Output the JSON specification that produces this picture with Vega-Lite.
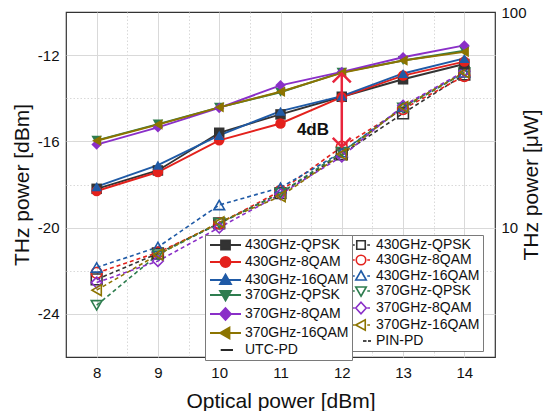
{
  "$schema": "https://vega.github.io/schema/vega-lite/v6.json",
  "width": 429,
  "height": 345,
  "autosize": {"type": "none"},
  "padding": {"left": 66, "top": 12, "right": 49, "bottom": 54},
  "config": {
    "view": {"stroke": "#333333", "strokeWidth": 1.2},
    "font": "Liberation Sans",
    "legend": {"strokeColor": "#7a7a7a", "strokeWidth": 1}
  },
  "datasets": {
    "thz": [
      {"pd": "PIN", "series": "430GHz-QPSK", "op": 8, "thz": -22.4},
      {"pd": "PIN", "series": "430GHz-QPSK", "op": 9, "thz": -21.2},
      {"pd": "PIN", "series": "430GHz-QPSK", "op": 10, "thz": -19.8},
      {"pd": "PIN", "series": "430GHz-QPSK", "op": 11, "thz": -18.4},
      {"pd": "PIN", "series": "430GHz-QPSK", "op": 12, "thz": -16.6},
      {"pd": "PIN", "series": "430GHz-QPSK", "op": 13, "thz": -14.7},
      {"pd": "PIN", "series": "430GHz-QPSK", "op": 14, "thz": -12.9},
      {"pd": "PIN", "series": "430GHz-8QAM", "op": 8, "thz": -22.1},
      {"pd": "PIN", "series": "430GHz-8QAM", "op": 9, "thz": -21.15},
      {"pd": "PIN", "series": "430GHz-8QAM", "op": 10, "thz": -19.8},
      {"pd": "PIN", "series": "430GHz-8QAM", "op": 11, "thz": -18.3},
      {"pd": "PIN", "series": "430GHz-8QAM", "op": 12, "thz": -16.25},
      {"pd": "PIN", "series": "430GHz-8QAM", "op": 13, "thz": -14.5},
      {"pd": "PIN", "series": "430GHz-8QAM", "op": 14, "thz": -12.97},
      {"pd": "PIN", "series": "430GHz-16QAM", "op": 8, "thz": -21.85},
      {"pd": "PIN", "series": "430GHz-16QAM", "op": 9, "thz": -20.9},
      {"pd": "PIN", "series": "430GHz-16QAM", "op": 10, "thz": -18.95},
      {"pd": "PIN", "series": "430GHz-16QAM", "op": 11, "thz": -18.15},
      {"pd": "PIN", "series": "430GHz-16QAM", "op": 12, "thz": -16.5},
      {"pd": "PIN", "series": "430GHz-16QAM", "op": 13, "thz": -14.4},
      {"pd": "PIN", "series": "430GHz-16QAM", "op": 14, "thz": -12.8},
      {"pd": "PIN", "series": "370GHz-QPSK", "op": 8, "thz": -23.6},
      {"pd": "PIN", "series": "370GHz-QPSK", "op": 9, "thz": -21.25},
      {"pd": "PIN", "series": "370GHz-QPSK", "op": 10, "thz": -19.8},
      {"pd": "PIN", "series": "370GHz-QPSK", "op": 11, "thz": -18.4},
      {"pd": "PIN", "series": "370GHz-QPSK", "op": 12, "thz": -16.5},
      {"pd": "PIN", "series": "370GHz-QPSK", "op": 13, "thz": -14.45},
      {"pd": "PIN", "series": "370GHz-QPSK", "op": 14, "thz": -12.82},
      {"pd": "PIN", "series": "370GHz-8QAM", "op": 8, "thz": -22.55},
      {"pd": "PIN", "series": "370GHz-8QAM", "op": 9, "thz": -21.55},
      {"pd": "PIN", "series": "370GHz-8QAM", "op": 10, "thz": -20.0},
      {"pd": "PIN", "series": "370GHz-8QAM", "op": 11, "thz": -18.45},
      {"pd": "PIN", "series": "370GHz-8QAM", "op": 12, "thz": -16.7},
      {"pd": "PIN", "series": "370GHz-8QAM", "op": 13, "thz": -14.35},
      {"pd": "PIN", "series": "370GHz-8QAM", "op": 14, "thz": -12.75},
      {"pd": "PIN", "series": "370GHz-16QAM", "op": 8, "thz": -22.9},
      {"pd": "PIN", "series": "370GHz-16QAM", "op": 9, "thz": -21.25},
      {"pd": "PIN", "series": "370GHz-16QAM", "op": 10, "thz": -19.75},
      {"pd": "PIN", "series": "370GHz-16QAM", "op": 11, "thz": -18.55},
      {"pd": "PIN", "series": "370GHz-16QAM", "op": 12, "thz": -16.6},
      {"pd": "PIN", "series": "370GHz-16QAM", "op": 13, "thz": -14.4},
      {"pd": "PIN", "series": "370GHz-16QAM", "op": 14, "thz": -12.8},
      {"pd": "UTC", "series": "430GHz-QPSK", "op": 8, "thz": -18.2},
      {"pd": "UTC", "series": "430GHz-QPSK", "op": 9, "thz": -17.35},
      {"pd": "UTC", "series": "430GHz-QPSK", "op": 10, "thz": -15.6},
      {"pd": "UTC", "series": "430GHz-QPSK", "op": 11, "thz": -14.75},
      {"pd": "UTC", "series": "430GHz-QPSK", "op": 12, "thz": -13.93},
      {"pd": "UTC", "series": "430GHz-QPSK", "op": 13, "thz": -13.12},
      {"pd": "UTC", "series": "430GHz-QPSK", "op": 14, "thz": -12.41},
      {"pd": "UTC", "series": "430GHz-8QAM", "op": 8, "thz": -18.3},
      {"pd": "UTC", "series": "430GHz-8QAM", "op": 9, "thz": -17.42},
      {"pd": "UTC", "series": "430GHz-8QAM", "op": 10, "thz": -15.95},
      {"pd": "UTC", "series": "430GHz-8QAM", "op": 11, "thz": -15.17},
      {"pd": "UTC", "series": "430GHz-8QAM", "op": 12, "thz": -13.95},
      {"pd": "UTC", "series": "430GHz-8QAM", "op": 13, "thz": -12.95},
      {"pd": "UTC", "series": "430GHz-8QAM", "op": 14, "thz": -12.3},
      {"pd": "UTC", "series": "430GHz-16QAM", "op": 8, "thz": -18.1},
      {"pd": "UTC", "series": "430GHz-16QAM", "op": 9, "thz": -17.1},
      {"pd": "UTC", "series": "430GHz-16QAM", "op": 10, "thz": -15.72},
      {"pd": "UTC", "series": "430GHz-16QAM", "op": 11, "thz": -14.6},
      {"pd": "UTC", "series": "430GHz-16QAM", "op": 12, "thz": -13.9},
      {"pd": "UTC", "series": "430GHz-16QAM", "op": 13, "thz": -12.85},
      {"pd": "UTC", "series": "430GHz-16QAM", "op": 14, "thz": -12.15},
      {"pd": "UTC", "series": "370GHz-QPSK", "op": 8, "thz": -15.95},
      {"pd": "UTC", "series": "370GHz-QPSK", "op": 9, "thz": -15.2},
      {"pd": "UTC", "series": "370GHz-QPSK", "op": 10, "thz": -14.42},
      {"pd": "UTC", "series": "370GHz-QPSK", "op": 11, "thz": -13.72},
      {"pd": "UTC", "series": "370GHz-QPSK", "op": 12, "thz": -12.8},
      {"pd": "UTC", "series": "370GHz-QPSK", "op": 13, "thz": -12.25},
      {"pd": "UTC", "series": "370GHz-QPSK", "op": 14, "thz": -11.8},
      {"pd": "UTC", "series": "370GHz-8QAM", "op": 8, "thz": -16.15},
      {"pd": "UTC", "series": "370GHz-8QAM", "op": 9, "thz": -15.35},
      {"pd": "UTC", "series": "370GHz-8QAM", "op": 10, "thz": -14.45},
      {"pd": "UTC", "series": "370GHz-8QAM", "op": 11, "thz": -13.4},
      {"pd": "UTC", "series": "370GHz-8QAM", "op": 12, "thz": -12.78},
      {"pd": "UTC", "series": "370GHz-8QAM", "op": 13, "thz": -12.1},
      {"pd": "UTC", "series": "370GHz-8QAM", "op": 14, "thz": -11.55},
      {"pd": "UTC", "series": "370GHz-16QAM", "op": 8, "thz": -15.97},
      {"pd": "UTC", "series": "370GHz-16QAM", "op": 9, "thz": -15.22},
      {"pd": "UTC", "series": "370GHz-16QAM", "op": 10, "thz": -14.42},
      {"pd": "UTC", "series": "370GHz-16QAM", "op": 11, "thz": -13.7},
      {"pd": "UTC", "series": "370GHz-16QAM", "op": 12, "thz": -12.82},
      {"pd": "UTC", "series": "370GHz-16QAM", "op": 13, "thz": -12.25},
      {"pd": "UTC", "series": "370GHz-16QAM", "op": 14, "thz": -11.85}
    ]
  },
  "layer": [
    {
      "encoding": {
        "x": {
          "field": "op", "type": "quantitative",
          "scale": {"domain": [7.5, 14.5], "nice": false, "zero": false},
          "axis": {
            "title": "Optical power [dBm]",
            "values": [8, 8.5, 9, 9.5, 10, 10.5, 11, 11.5, 12, 12.5, 13, 13.5, 14],
            "labelExpr": "datum.value % 1 == 0 ? toString(datum.value) : ''",
            "domain": false, "tickSize": 0, "tickColor": "#333333", "tickWidth": 1.2,
            "encode": {"ticks": {"update": {"y2": {"signal": "datum.value % 1 == 0 ? -6 : -3"}}}},
            "grid": true, "gridColor": "#d9d9d9", "gridWidth": 1,
            "gridDash": {"condition": {"test": "datum.value % 1 == 0", "value": []}, "value": [1.5, 2]},
            "labelFont": "Liberation Sans", "labelFontSize": 15, "labelColor": "#111111",
            "labelPadding": 8, "labelFlush": false,
            "titleFont": "Liberation Sans", "titleFontSize": 21, "titleFontWeight": "normal",
            "titleColor": "#111111", "titleY": 33
          }
        },
        "y": {
          "field": "thz", "type": "quantitative",
          "scale": {"domain": [-26, -10], "nice": false, "zero": false},
          "axis": {
            "title": "THz power [dBm]",
            "values": [-24, -22, -20, -18, -16, -14, -12],
            "labelExpr": "datum.value % 4 == 0 ? toString(datum.value) : ''",
            "domain": false, "tickSize": 0, "tickColor": "#333333", "tickWidth": 1.2,
            "encode": {"ticks": {"update": {"x2": {"signal": "datum.value % 4 == 0 ? 6 : 3"}}}},
            "grid": true, "gridColor": "#d9d9d9", "gridWidth": 1,
            "gridDash": {"condition": {"test": "datum.value % 4 == 0", "value": []}, "value": [1.5, 2]},
            "labelFont": "Liberation Sans", "labelFontSize": 15, "labelColor": "#111111",
            "labelPadding": 7, "labelFlush": false,
            "titleFont": "Liberation Sans", "titleFontSize": 21, "titleFontWeight": "normal",
            "titleColor": "#111111", "titleX": -34, "titleY": 172.5
          }
        }
      },
      "layer": [
        {
          "data": {"name": "thz"},
          "transform": [{"filter": "datum.pd == 'PIN'"}],
          "layer": [
            {
              "mark": {"type": "line", "strokeWidth": 1.6, "strokeDash": [4, 3]},
              "encoding": {
                "color": {"field": "series", "type": "nominal",
                  "scale": {"domain": ["430GHz-QPSK", "430GHz-8QAM", "430GHz-16QAM", "370GHz-QPSK", "370GHz-8QAM", "370GHz-16QAM"],
                            "range": ["#333333", "#e3211c", "#1f5aa6", "#2e7d4f", "#8a2fc8", "#8c7400"]},
                  "legend": null}
              }
            },
            {
              "mark": {"type": "point", "filled": false, "size": 115, "strokeWidth": 1.6, "opacity": 1},
              "encoding": {
                "color": {"field": "series", "type": "nominal",
                  "scale": {"domain": ["430GHz-QPSK", "430GHz-8QAM", "430GHz-16QAM", "370GHz-QPSK", "370GHz-8QAM", "370GHz-16QAM"],
                            "range": ["#333333", "#e3211c", "#1f5aa6", "#2e7d4f", "#8a2fc8", "#8c7400"]},
                  "legend": null},
                "shape": {"field": "series", "type": "nominal",
                  "scale": {"domain": ["430GHz-QPSK", "430GHz-8QAM", "430GHz-16QAM", "370GHz-QPSK", "370GHz-8QAM", "370GHz-16QAM"],
                            "range": ["square", "circle", "triangle-up", "triangle-down", "diamond", "triangle-left"]},
                  "legend": null}
              }
            },
            {
              "data": {"values": []},
              "mark": {"type": "point", "filled": false, "size": 100, "strokeWidth": 1.6, "opacity": 1},
              "encoding": {
                "stroke": {"field": "series", "type": "nominal",
                  "scale": {"domain": ["430GHz-QPSK", "430GHz-8QAM", "430GHz-16QAM\u00a0\u00a0\u00a0", "370GHz-QPSK", "370GHz-8QAM", "370GHz-16QAM", "\u00a0\u00a0\u00a0PIN-PD"],
                            "range": ["#333333", "#e3211c", "#1f5aa6", "#2e7d4f", "#8a2fc8", "#8c7400", "#111111"]},
                  "legend": {
                    "title": null, "orient": "none", "legendX": 285, "legendY": 223,
                    "padding": 3, "strokeColor": "#7a7a7a", "fillColor": "#ffffff",
                    "labelFont": "Liberation Sans", "labelFontSize": 14, "labelColor": "#111111",
                    "labelOffset": 8, "rowPadding": -1, "symbolStrokeWidth": 1.6, "symbolOpacity": 1,
                    "labelLimit": 250
                  }},
                "shape": {"field": "series", "type": "nominal",
                  "scale": {"domain": ["430GHz-QPSK", "430GHz-8QAM", "430GHz-16QAM\u00a0\u00a0\u00a0", "370GHz-QPSK", "370GHz-8QAM", "370GHz-16QAM", "\u00a0\u00a0\u00a0PIN-PD"],
                            "range": ["M-1.8,0H-1.25M1.25,0H1.8M-0.85,-0.85H0.85V0.85H-0.85Z", "M-1.8,0H-1.25M1.25,0H1.8M-0.95,0A0.95,0.95 0 1,0 0.95,0A0.95,0.95 0 1,0 -0.95,0Z", "M-1.8,0H-1.25M1.25,0H1.8M0,-1.05L1.05,0.8H-1.05Z", "M-1.8,0H-1.25M1.25,0H1.8M0,1.05L1.05,-0.8H-1.05Z", "M-1.8,0H-1.25M1.25,0H1.8M0,-1.15L1.05,0L0,1.15L-1.05,0Z", "M-1.8,0H-1.25M1.25,0H1.8M-1.05,0L0.85,-1.05V1.05Z", "M0.4,0H1.1M1.4,0H2.0"]},
                  "legend": {
                    "title": null, "orient": "none", "legendX": 285, "legendY": 223,
                    "padding": 3, "strokeColor": "#7a7a7a", "fillColor": "#ffffff",
                    "labelFont": "Liberation Sans", "labelFontSize": 14, "labelColor": "#111111",
                    "labelOffset": 8, "rowPadding": -1, "symbolStrokeWidth": 1.6, "symbolOpacity": 1,
                    "labelLimit": 250
                  }}
              }
            }
          ],
          "resolve": {"scale": {"shape": "independent", "stroke": "independent", "fill": "independent"}}
        },
        {
          "data": {"name": "thz"},
          "transform": [{"filter": "datum.pd == 'UTC'"}],
          "layer": [
            {
              "mark": {"type": "line", "strokeWidth": 1.9},
              "encoding": {
                "color": {"field": "series", "type": "nominal",
                  "scale": {"domain": ["430GHz-QPSK", "430GHz-8QAM", "430GHz-16QAM", "370GHz-QPSK", "370GHz-8QAM", "370GHz-16QAM"],
                            "range": ["#333333", "#e3211c", "#1f5aa6", "#2e7d4f", "#8a2fc8", "#8c7400"]},
                  "legend": null}
              }
            },
            {
              "mark": {"type": "point", "filled": true, "size": 110, "opacity": 1},
              "encoding": {
                "color": {"field": "series", "type": "nominal",
                  "scale": {"domain": ["430GHz-QPSK", "430GHz-8QAM", "430GHz-16QAM", "370GHz-QPSK", "370GHz-8QAM", "370GHz-16QAM"],
                            "range": ["#333333", "#e3211c", "#1f5aa6", "#2e7d4f", "#8a2fc8", "#8c7400"]},
                  "legend": null},
                "shape": {"field": "series", "type": "nominal",
                  "scale": {"domain": ["430GHz-QPSK", "430GHz-8QAM", "430GHz-16QAM", "370GHz-QPSK", "370GHz-8QAM", "370GHz-16QAM"],
                            "range": ["square", "circle", "triangle-up", "triangle-down", "diamond", "triangle-left"]},
                  "legend": null}
              }
            },
            {
              "data": {"values": []},
              "mark": {"type": "point", "filled": true, "size": 100, "strokeWidth": 1.8, "opacity": 1},
              "encoding": {
                "fill": {"field": "series", "type": "nominal",
                  "scale": {"domain": ["430GHz-QPSK", "430GHz-8QAM", "430GHz-16QAM", "370GHz-QPSK", "370GHz-8QAM", "370GHz-16QAM", "UTC-PD"],
                            "range": ["#333333", "#e3211c", "#1f5aa6", "#2e7d4f", "#8a2fc8", "#8c7400", "#111111"]},
                  "legend": {
                    "title": null, "orient": "none", "legendX": 139, "legendY": 223,
                    "padding": 3, "strokeColor": "#7a7a7a", "fillColor": "#ffffff",
                    "labelFont": "Liberation Sans", "labelFontSize": 14, "labelColor": "#111111",
                    "labelOffset": 23, "rowPadding": -1, "symbolStrokeWidth": 1.8, "symbolOpacity": 1,
                    "labelLimit": 250
                  }},
                "stroke": {"field": "series", "type": "nominal",
                  "scale": {"domain": ["430GHz-QPSK", "430GHz-8QAM", "430GHz-16QAM", "370GHz-QPSK", "370GHz-8QAM", "370GHz-16QAM", "UTC-PD"],
                            "range": ["#333333", "#e3211c", "#1f5aa6", "#2e7d4f", "#8a2fc8", "#8c7400", "#111111"]},
                  "legend": {
                    "title": null, "orient": "none", "legendX": 139, "legendY": 223,
                    "padding": 3, "strokeColor": "#7a7a7a", "fillColor": "#ffffff",
                    "labelFont": "Liberation Sans", "labelFontSize": 14, "labelColor": "#111111",
                    "labelOffset": 23, "rowPadding": -1, "symbolStrokeWidth": 1.8, "symbolOpacity": 1,
                    "labelLimit": 250
                  }},
                "shape": {"field": "series", "type": "nominal",
                  "scale": {"domain": ["430GHz-QPSK", "430GHz-8QAM", "430GHz-16QAM", "370GHz-QPSK", "370GHz-8QAM", "370GHz-16QAM", "UTC-PD"],
                            "range": ["M-1,0H5.2M1.2,-0.9H3V0.9H1.2Z", "M-1,0H5.2M1.1,0A1,1 0 1,0 3.1,0A1,1 0 1,0 1.1,0Z", "M-1,0H5.2M2.1,-1.1L3.2,0.8H1Z", "M-1,0H5.2M2.1,1.1L3.2,-0.8H1Z", "M-1,0H5.2M2.1,-1.2L3.2,0L2.1,1.2L1,0Z", "M-1,0H5.2M1,0L2.9,-1.1V1.1Z", "M1.14,0H3.6"]},
                  "legend": {
                    "title": null, "orient": "none", "legendX": 139, "legendY": 223,
                    "padding": 3, "strokeColor": "#7a7a7a", "fillColor": "#ffffff",
                    "labelFont": "Liberation Sans", "labelFontSize": 14, "labelColor": "#111111",
                    "labelOffset": 23, "rowPadding": -1, "symbolStrokeWidth": 1.8, "symbolOpacity": 1,
                    "labelLimit": 250
                  }}
              }
            }
          ],
          "resolve": {"scale": {"shape": "independent", "stroke": "independent", "fill": "independent"}}
        },
        {
          "data": {"values": [{"op": 12, "thz": -12.85, "thz2": -16.25}]},
          "mark": {"type": "rule", "color": "#e8253c", "strokeWidth": 2.5},
          "encoding": {"y2": {"field": "thz2"}}
        },
        {
          "data": {"values": [{"op": 12, "thz": -12.85}]},
          "mark": {"type": "point", "shape": "M-1,1L0,0L1,1", "size": 324, "filled": false, "color": "#e8253c", "strokeWidth": 2.5, "opacity": 1}
        },
        {
          "data": {"values": [{"op": 12, "thz": -16.25}]},
          "mark": {"type": "point", "shape": "M-1,-1L0,0L1,-1", "size": 324, "filled": false, "color": "#e8253c", "strokeWidth": 2.5, "opacity": 1}
        },
        {
          "data": {"values": [{"op": 11.53, "thz": -15.47, "label": "4dB"}]},
          "mark": {"type": "text", "font": "Liberation Sans", "fontSize": 17, "fontWeight": "bold", "align": "center", "baseline": "middle", "color": "#111111"},
          "encoding": {"text": {"field": "label"}}
        }
      ],
      "resolve": {"scale": {"color": "independent", "shape": "independent", "fill": "independent", "stroke": "independent"}}
    },
    {
      "data": {"values": [{"op": 8, "uw": 10}]},
      "mark": {"type": "point", "opacity": 0},
      "encoding": {
        "x": {
          "field": "op", "type": "quantitative",
          "scale": {"domain": [7.5, 14.5], "nice": false, "zero": false},
          "axis": {
            "orient": "top", "title": null, "labels": false, "grid": false, "domain": false,
            "values": [8, 8.5, 9, 9.5, 10, 10.5, 11, 11.5, 12, 12.5, 13, 13.5, 14],
            "tickSize": 0, "tickColor": "#333333", "tickWidth": 1.2,
            "encode": {"ticks": {"update": {"y2": {"signal": "datum.value % 1 == 0 ? 6 : 3"}}}}
          }
        },
        "y": {
          "field": "uw", "type": "quantitative",
          "scale": {"type": "log", "domain": [2.511886, 100], "nice": false},
          "axis": {
            "orient": "right", "title": "THz power [μW]", "grid": false, "domain": false,
            "values": [3, 4, 5, 6, 7, 8, 9, 10, 20, 30, 40, 50, 60, 70, 80, 90, 100],
            "labelExpr": "datum.value == 10 || datum.value == 100 ? toString(datum.value) : ''",
            "tickSize": 0, "tickColor": "#333333", "tickWidth": 1.2,
            "encode": {"ticks": {"update": {"x2": {"signal": "datum.value == 10 || datum.value == 100 ? -6 : -3"}}}},
            "labelFont": "Liberation Sans", "labelFontSize": 15, "labelColor": "#111111",
            "labelPadding": 6, "labelFlush": false, "labelOverlap": false,
            "titleFont": "Liberation Sans", "titleFontSize": 21, "titleFontWeight": "normal",
            "titleColor": "#111111", "titleX": 25, "titleY": 172.5, "titleAngle": 270,
            "titleBaseline": "top", "titleAlign": "center"
          }
        }
      }
    }
  ],
  "resolve": {"scale": {"x": "independent", "y": "independent"}}
}
